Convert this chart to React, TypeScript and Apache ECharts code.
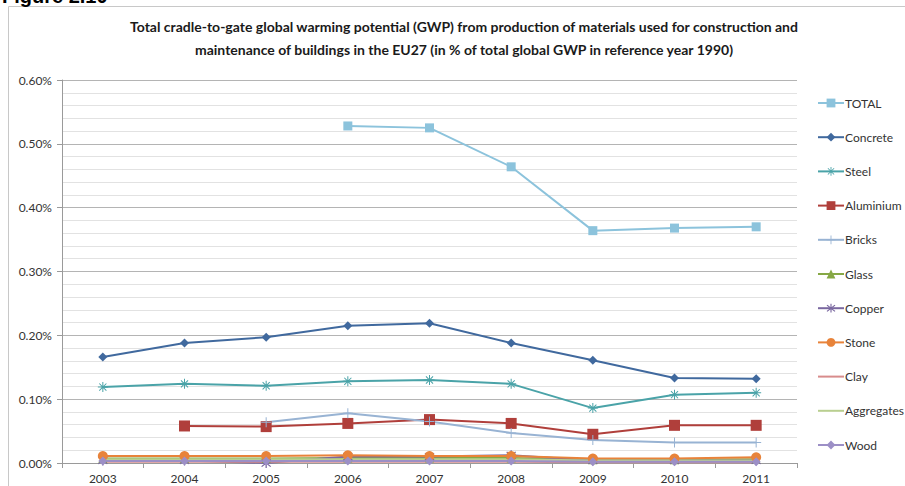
import React, { useEffect, useRef } from "react";
import * as echarts from "echarts";

const years = ["2003", "2004", "2005", "2006", "2007", "2008", "2009", "2010", "2011"];
const yTicks = [0, 0.1, 0.2, 0.3, 0.4, 0.5, 0.6];

const total = [null, null, null, 0.528, 0.525, 0.464, 0.364, 0.368, 0.370];
const concrete = [0.166, 0.188, 0.197, 0.215, 0.219, 0.188, 0.161, 0.133, 0.132];
const steel = [0.119, 0.124, 0.121, 0.128, 0.130, 0.124, 0.086, 0.107, 0.110];
const aluminium = [null, 0.058, 0.057, 0.062, 0.068, 0.062, 0.045, 0.059, 0.059];
const bricks = [null, null, 0.064, 0.078, 0.065, 0.047, 0.036, 0.032, 0.032];
const glass = [0.007, 0.007, 0.007, 0.008, 0.008, 0.008, 0.005, 0.005, 0.006];
const copper = [0.004, 0.004, 0.000, 0.010, 0.010, 0.012, 0.004, 0.004, 0.004];
const stone = [0.011, 0.011, 0.011, 0.012, 0.011, 0.011, 0.007, 0.007, 0.009];
const clay = [0.002, 0.002, 0.002, 0.002, 0.002, 0.002, 0.001, 0.001, 0.001];
const aggregates = [0.006, 0.006, 0.006, 0.006, 0.006, 0.006, 0.004, 0.004, 0.004];
const wood = [0.003, 0.003, 0.003, 0.003, 0.003, 0.003, 0.002, 0.002, 0.002];

const asterisk =
  "path://M9,0 L11,0 L11,20 L9,20 Z M0,9 L20,9 L20,11 L0,11 Z M2.2,3.6 L3.6,2.2 L17.8,16.4 L16.4,17.8 Z M16.4,2.2 L17.8,3.6 L3.6,17.8 L2.2,16.4 Z";
const xcross =
  "path://M2.2,3.6 L3.6,2.2 L17.8,16.4 L16.4,17.8 Z M16.4,2.2 L17.8,3.6 L3.6,17.8 L2.2,16.4 Z M9,0 L11,0 L11,20 L9,20 Z";
const plus = "path://M9,0 L11,0 L11,20 L9,20 Z M0,9 L20,9 L20,11 L0,11 Z";

const names = ["TOTAL", "Concrete", "Steel", "Aluminium", "Bricks", "Glass", "Copper", "Stone", "Clay", "Aggregates", "Wood"];

export default function App() {
  const ref = useRef<HTMLDivElement>(null);
  useEffect(() => {
    if (!ref.current) return;
    const chart = echarts.init(ref.current, null, { renderer: "svg" });
    const mk = (name: string, data: (number | null)[], color: string, symbol: string, size: number) => ({
      name,
      type: "line",
      data,
      symbol,
      symbolSize: size,
      showSymbol: symbol !== "none",
      connectNulls: false,
      lineStyle: { color, width: 2 },
      itemStyle: { color },
      z: 3,
    });
    chart.setOption({
      animation: false,
      backgroundColor: "#ffffff",
      title: {
        text: "Total cradle-to-gate global warming potential (GWP) from production of materials used for construction and\nmaintenance of buildings in the EU27 (in % of total global GWP in reference year 1990)",
        left: 459,
        top: 10,
        textAlign: "center",
        textStyle: {
          fontFamily: "Lato",
          fontWeight: "bold",
          fontSize: 14,
          color: "#1a1a1a",
          lineHeight: 23,
        },
      },
      graphic: [
        {
          type: "rect",
          shape: { x: 8.5, y: 6.5, width: 920, height: 500 },
          style: { fill: "none", stroke: "#c8c8c8", lineWidth: 1 },
          z: -1,
        },
        {
          type: "text",
          x: 2,
          y: 6,
          style: {
            text: "Figure 2.10",
            fontFamily: "Liberation Sans",
            fontWeight: "bold",
            fontSize: 20,
            fill: "#000",
            verticalAlign: "bottom",
          },
        },
      ],
      legend: {
        orient: "vertical",
        left: 812,
        top: 92,
        itemGap: 22.2,
        itemWidth: 26,
        itemHeight: 11,
        data: names.map((n) =>
          n === "Clay" || n === "Aggregates"
            ? { name: n, itemStyle: { opacity: 0 } }
            : { name: n }
        ),
        textStyle: { fontFamily: "Lato", fontSize: 12, color: "#333", padding: [0, 0, 0, -4] },
      },
      grid: { left: 62, right: 108, top: 80, bottom: 23 },
      xAxis: {
        type: "category",
        data: years,
        boundaryGap: true,
        axisLine: { lineStyle: { color: "#9a9a9a" } },
        axisTick: { show: true, length: 5, lineStyle: { color: "#9a9a9a" } },
        axisLabel: { fontFamily: "Lato", fontSize: 12, color: "#333", margin: 9 },
      },
      yAxis: {
        type: "value",
        min: yTicks[0],
        max: yTicks[yTicks.length - 1],
        interval: 0.1,
        axisLine: { show: true, lineStyle: { color: "#9a9a9a" } },
        axisTick: { show: true, length: 5, lineStyle: { color: "#9a9a9a" } },
        axisLabel: {
          fontFamily: "Lato",
          fontSize: 12,
          color: "#333",
          margin: 10,
          formatter: (v: number) => v.toFixed(2) + "%",
        },
        splitLine: { lineStyle: { color: "#b4b4b4" } },
        minorTick: { show: false, splitNumber: 5 },
        minorSplitLine: { show: true, lineStyle: { color: "#e2e2e2" } },
      },
      series: [
        mk("TOTAL", total, "#8cc3dc", "rect", 9),
        mk("Concrete", concrete, "#40699e", "diamond", 9),
        mk("Steel", steel, "#4aa3a8", asterisk, 10),
        mk("Aluminium", aluminium, "#b03f3b", "rect", 11),
        mk("Bricks", bricks, "#98b3d3", plus, 10),
        mk("Glass", glass, "#86a845", "triangle", 9),
        mk("Copper", copper, "#7a68a0", xcross, 10),
        mk("Stone", stone, "#e8833a", "circle", 10),
        mk("Clay", clay, "#d88c8c", "none", 0),
        mk("Aggregates", aggregates, "#b9cf90", "none", 0),
        mk("Wood", wood, "#9c8fc6", "diamond", 9),
      ],
    });
    return () => chart.dispose();
  }, []);
  return (
    <div
      ref={ref}
      style={{ position: "fixed", left: 0, top: 0, width: 905, height: 486 }}
    />
  );
}
